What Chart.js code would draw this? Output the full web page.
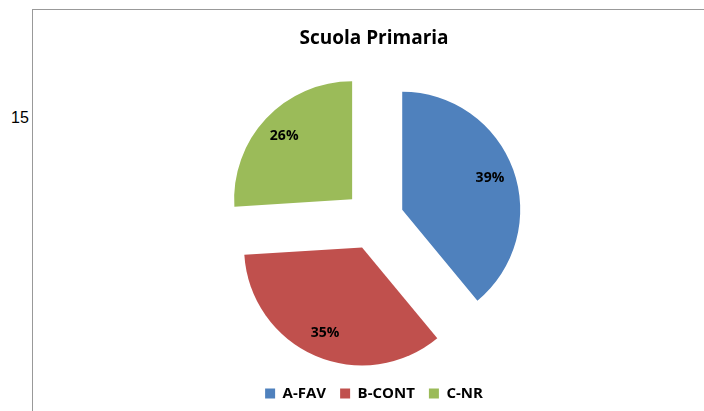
<!DOCTYPE html>
<html>
<head>
<meta charset="utf-8">
<script src="https://cdn.jsdelivr.net/npm/chart.js@4/dist/chart.umd.min.js"></script>
<style>
    html, body {
        margin: 0;
        padding: 0;
        background: #ffffff;
    }
    #wrap {
        position: relative;
        width: 704px;
        height: 411px;
        overflow: hidden;
    }
    #frame {
        position: absolute;
        left: 32px;
        top: 9px;
        width: 680px;
        height: 420px;
        border-top: 1px solid #999999;
        border-left: 1px solid #999999;
    }
    #sideNote {
        position: absolute;
        left: 11px;
        top: 109px;
        font: 16px "Liberation Sans", Arial, sans-serif;
        color: #000000;
    }
    #pieChart {
        position: absolute;
        left: 0;
        top: 0;
    }
</style>
</head>
<body>
<div id="wrap">
    <div id="frame"></div>
    <div id="sideNote">15</div>
    <canvas id="pieChart" width="704" height="411"></canvas>
</div>
<script>
/* Scuola Primaria - exploded pie */

const categories = ["A-FAV", "B-CONT", "C-NR"];
const shares = [39, 35, 26];
const sliceColors = ["#4F81BD", "#C0504D", "#9BBB59"];

const EXPLODE = 30;      // px each slice is pushed out along its bisector
const LABEL_POS = 0.79;  // label distance as fraction of radius

// draw every arc pushed out by the same distance (Chart.js's own offset
// also grows the radius of wide slices, which the original doesn't do)
const explodeSlices = {
    id: "explodeSlices",
    beforeDatasetDraw(chart, args) {
        const { ctx } = chart;
        args.meta.data.forEach((arc) => {
            const { startAngle, endAngle } = arc.getProps(["startAngle", "endAngle"], true);
            const mid = (startAngle + endAngle) / 2;
            ctx.save();
            ctx.translate(Math.cos(mid) * EXPLODE, Math.sin(mid) * EXPLODE);
            arc.draw(ctx, chart.chartArea);
            ctx.restore();
        });
        return false;
    }
};

const pctLabels = {
    id: "pctLabels",
    afterDatasetsDraw(chart) {
        const { ctx } = chart;
        const meta = chart.getDatasetMeta(0);

        ctx.save();
        ctx.font = "bold 14px 'Open Sans', sans-serif";
        ctx.fillStyle = "#000000";
        ctx.textAlign = "center";
        ctx.textBaseline = "middle";

        meta.data.forEach((arc, i) => {
            const { x, y, startAngle, endAngle, outerRadius } =
                arc.getProps(["x", "y", "startAngle", "endAngle", "outerRadius"], true);
            const mid = (startAngle + endAngle) / 2;
            const r = EXPLODE + outerRadius * LABEL_POS;
            ctx.fillText(`${shares[i]}%`, x + Math.cos(mid) * r, y + Math.sin(mid) * r);
        });

        ctx.restore();
    }
};

new Chart(document.getElementById("pieChart"), {
    type: "pie",
    data: {
        labels: categories,
        datasets: [{
            data: shares,
            backgroundColor: sliceColors,
            borderWidth: 0,
            hoverOffset: 0
        }]
    },
    options: {
        responsive: false,
        animation: false,
        radius: 118,
        layout: {
            padding: { left: 44, right: 0, top: 0, bottom: 0 }
        },
        plugins: {
            title: {
                display: true,
                text: "Scuola Primaria",
                color: "#000000",
                font: { family: "'Open Sans', sans-serif", size: 19, weight: "bold" },
                padding: { top: 27, bottom: 18 }
            },
            legend: {
                position: "bottom",
                labels: {
                    color: "#000000",
                    font: { family: "'Open Sans', sans-serif", size: 15, weight: "bold" },
                    boxWidth: 10,
                    boxHeight: 10,
                    padding: 14
                }
            },
            tooltip: { enabled: false }
        }
    },
    plugins: [explodeSlices, pctLabels]
});
</script>
</body>
</html>
